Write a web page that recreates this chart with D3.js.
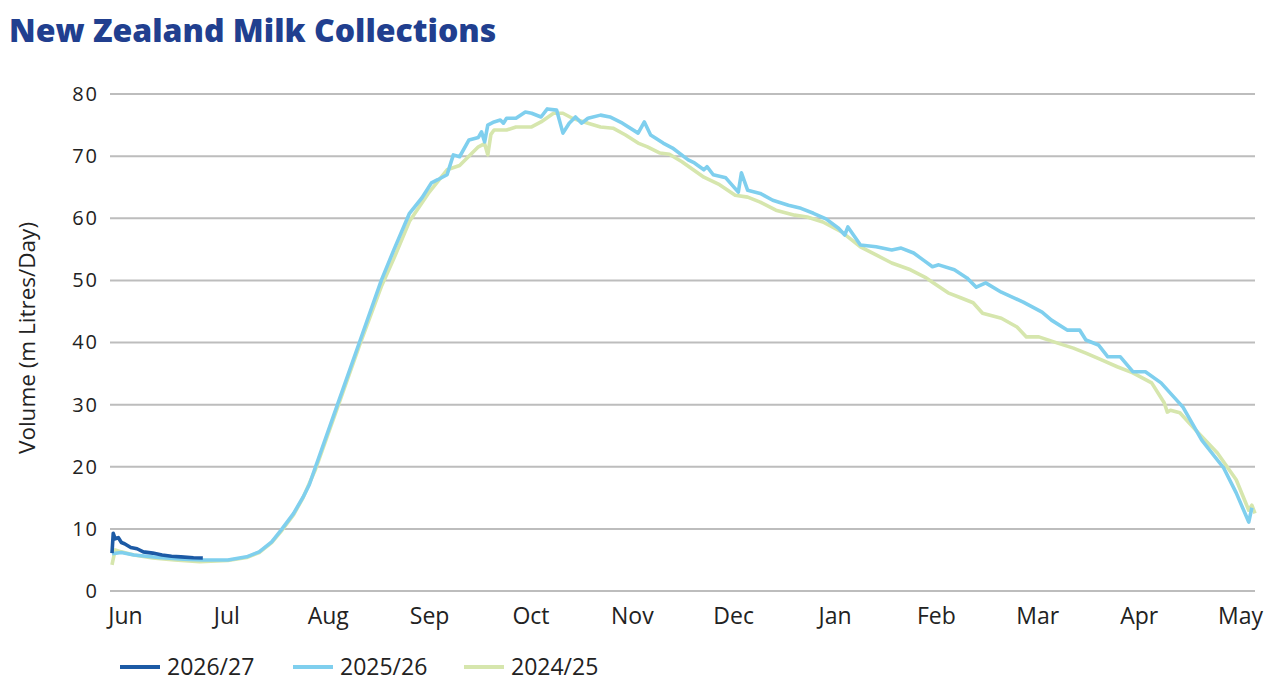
<!DOCTYPE html>
<html>
<head>
<meta charset="utf-8">
<script src="https://cdn.jsdelivr.net/npm/d3@7"></script>
<style>
  body { margin: 0; background: #fff; }
  text { font-family: "Open Sans", "Noto Sans", sans-serif; fill: #222; }
</style>
</head>
<body>
<svg id="chart" width="1280" height="692"></svg>
<script>
// day of season (0 = 1 June) and volume in m litres/day
var months = ["Jun", "Jul", "Aug", "Sep", "Oct", "Nov", "Dec", "Jan", "Feb", "Mar", "Apr", "May"];
var yTicks = [0, 10, 20, 30, 40, 50, 60, 70, 80];

var days2627 = [0, 0.4, 1, 2, 3, 4, 6, 8, 10, 13, 16, 19, 22, 26, 29];
var vol2627 = [6.1, 9.3, 8.4, 8.6, 7.8, 7.6, 7.0, 6.8, 6.3, 6.1, 5.8, 5.6, 5.5, 5.35, 5.3];

var days2526 = [0, 3, 7, 15, 23, 29, 37, 43, 47, 51, 54, 58, 61, 63, 65, 72, 79, 86, 90, 95, 99, 102, 104, 107, 109, 111, 114, 117, 118, 119, 120, 122, 124, 125, 126, 129, 132, 134, 137, 139, 142, 144, 146, 148, 150, 152, 156, 159, 163, 168, 170, 172, 176, 179, 184, 186, 189, 190, 192, 196, 200, 201, 203, 207, 211, 216, 220, 224, 228, 232, 234, 235, 239, 244, 249, 252, 256, 259, 262, 264, 269, 273, 276, 279, 284, 288, 291, 294, 297, 300, 305, 309, 311, 315, 318, 322, 326, 330, 335, 342, 348, 355, 359, 363, 364];
var vol2526 = [6.0, 6.2, 5.8, 5.4, 5.1, 5.0, 5.0, 5.5, 6.3, 7.9, 9.8, 12.5, 15.1, 17.1, 20.0, 30.0, 40.0, 50.0, 54.9, 60.8, 63.3, 65.7, 66.2, 67.0, 70.2, 69.9, 72.6, 73.0, 73.9, 72.3, 75.0, 75.5, 75.8, 75.3, 76.1, 76.1, 77.1, 76.9, 76.3, 77.6, 77.4, 73.7, 75.3, 76.3, 75.3, 76.1, 76.6, 76.3, 75.3, 73.7, 75.5, 73.4, 72.1, 71.3, 69.4, 68.9, 67.8, 68.3, 67.0, 66.5, 64.2, 67.3, 64.5, 64.0, 62.9, 62.1, 61.6, 60.8, 59.9, 58.4, 57.3, 58.6, 55.7, 55.4, 54.9, 55.2, 54.4, 53.3, 52.2, 52.5, 51.7, 50.4, 48.9, 49.6, 48.1, 47.2, 46.5, 45.7, 44.9, 43.6, 42.0, 42.0, 40.4, 39.6, 37.7, 37.7, 35.3, 35.3, 33.5, 29.6, 24.3, 19.8, 15.8, 11.1, 13.4];

var days2425 = [0, 1, 3, 7, 13, 20, 28, 37, 43, 47, 51, 54, 58, 61, 65, 72, 79, 86, 90, 95, 101, 107, 111, 117, 119, 120, 121, 122, 126, 129, 134, 137, 141, 144, 147, 152, 156, 160, 164, 168, 171, 175, 178, 182, 189, 194, 199, 203, 207, 212, 218, 222, 227, 233, 239, 244, 249, 255, 260, 262, 267, 271, 275, 278, 284, 289, 292, 296, 302, 307, 311, 316, 321, 326, 332, 336, 337, 338, 341, 347, 353, 359, 363, 364, 365];
var vol2425 = [4.2, 6.6, 6.3, 5.8, 5.3, 5.0, 4.7, 4.9, 5.4, 6.2, 7.8, 9.6, 12.3, 15.0, 19.6, 29.5, 39.5, 49.0, 53.5, 59.5, 64.0, 67.8, 68.5, 71.5, 72.0, 70.2, 73.5, 74.2, 74.2, 74.7, 74.7, 75.5, 76.9, 76.9, 76.1, 75.3, 74.7, 74.5, 73.4, 72.1, 71.5, 70.5, 70.3, 69.1, 66.6, 65.4, 63.7, 63.4, 62.6, 61.3, 60.5, 60.2, 59.4, 57.8, 55.4, 54.1, 52.8, 51.7, 50.4, 49.7, 48.0, 47.2, 46.4, 44.7, 43.9, 42.5, 40.9, 40.9, 39.9, 39.1, 38.3, 37.2, 36.1, 35.1, 33.5, 30.3, 28.8, 29.1, 28.7, 25.4, 22.2, 17.9, 13.0, 13.8, 12.5];

var seriesNames = ["2026/27", "2025/26", "2024/25"];

var COLOR = {
  _TITLE: "#213f8f",
  _2627: "#1c5aa5",
  _2526: "#7fcfee",
  _2425: "#d6e6ad",
  _GRID: "#bdbdbd"
};

var svg = d3.select("#chart");

var margin = { left: 112, right: 25, top: 94, bottom: 101 };
var width = 1280 - margin.left - margin.right;
var height = 692 - margin.top - margin.bottom;

// title
svg.append("text")
  .attr("x", 9)
  .attr("y", 42)
  .style("font-family", "'Open Sans', sans-serif")
  .style("font-weight", 800)
  .style("font-size", "32px")
  .style("fill", COLOR._TITLE)
  .text("New Zealand Milk Collections");

var g = svg.append("g")
  .attr("transform", "translate(" + margin.left + "," + margin.top + ")");

var x = d3.scaleLinear().domain([0, 365]).range([0, width]);
var y = d3.scaleLinear().domain([0, 80]).range([height, 0]);
var xLabel = d3.scalePoint().domain(months).range([13, 1128]);

// gridlines
g.selectAll(".grid")
  .data(yTicks)
  .enter()
  .append("line")
  .attr("class", "grid")
  .attr("x1", -2)
  .attr("x2", width)
  .attr("y1", function (d) { return y(d); })
  .attr("y2", function (d) { return y(d); })
  .style("stroke", COLOR._GRID)
  .style("stroke-width", 2);

// y axis labels
var yAxis = g.append("g")
  .call(d3.axisLeft(y).tickValues(yTicks).tickSize(0).tickPadding(13));
yAxis.select(".domain").remove();
yAxis.selectAll("text")
  .style("font-size", "20px")
  .style("letter-spacing", "2px")
  .style("font-family", "'Open Sans', sans-serif")
  .style("fill", "#222");

// x axis labels
var xAxis = g.append("g")
  .attr("transform", "translate(0," + height + ")")
  .call(d3.axisBottom(xLabel).tickSize(0).tickPadding(17));
xAxis.select(".domain").remove();
xAxis.selectAll("text")
  .style("font-size", "23px")
  .style("font-family", "'Open Sans', sans-serif")
  .style("fill", "#222");

// y axis title
svg.append("text")
  .attr("transform", "translate(35,338) rotate(-90)")
  .attr("text-anchor", "middle")
  .style("font-size", "22.5px")
  .text("Volume (m Litres/Day)");

// lines
var line = d3.line()
  .x(function (d) { return x(d[0]); })
  .y(function (d) { return y(d[1]); });

var series = [
  { name: seriesNames[2], days: days2425, vals: vol2425, color: COLOR._2425 },
  { name: seriesNames[1], days: days2526, vals: vol2526, color: COLOR._2526 },
  { name: seriesNames[0], days: days2627, vals: vol2627, color: COLOR._2627 }
];

g.selectAll(".series")
  .data(series)
  .enter()
  .append("path")
  .attr("class", "series")
  .attr("d", function (s) { return line(d3.zip(s.days, s.vals)); })
  .style("fill", "none")
  .style("stroke", function (s) { return s.color; })
  .style("stroke-width", 3.6)
  .style("stroke-linejoin", "round");

// legend
var legendX = [120, 293, 464];
var legendColors = [COLOR._2627, COLOR._2526, COLOR._2425];
var legend = svg.selectAll(".legend")
  .data(seriesNames)
  .enter()
  .append("g")
  .attr("class", "legend")
  .attr("transform", function (d, i) { return "translate(" + legendX[i] + ",667)"; });

legend.append("line")
  .attr("x1", 0)
  .attr("x2", 40)
  .style("stroke", function (d, i) { return legendColors[i]; })
  .style("stroke-width", 4);

legend.append("text")
  .attr("x", 47)
  .attr("dy", "0.35em")
  .style("font-size", "23px")
  .text(function (d) { return d; });
</script>
</body>
</html>
